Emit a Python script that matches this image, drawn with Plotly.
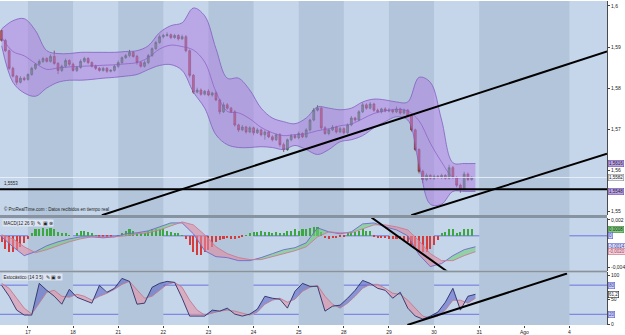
import plotly.graph_objects as go

# ---------------- data ----------------
day_labels = ["17", "18", "21", "22", "23", "24", "25", "28", "29", "30", "31", "Ago", "4"]
day_hours = [0, 24, 48, 72, 96, 120, 144, 168, 192, 216, 240, 264, 288]

# 2-hour candles, hours from first labelled day
candle_t = list(range(-14, 238, 2))
first_open = 1.5940
close = [
    1.5916, 1.5891, 1.5848, 1.5829, 1.5814, 1.5824, 1.5821, 1.5833, 1.5848, 1.5858,
    1.5865, 1.5872, 1.5865, 1.5877, 1.5860, 1.5843, 1.5853, 1.5867, 1.5858, 1.5843,
    1.5850, 1.5865, 1.5872, 1.5862, 1.5853, 1.5848, 1.5843, 1.5848, 1.5841, 1.5843,
    1.5853, 1.5862, 1.5874, 1.5879, 1.5887, 1.5877, 1.5862, 1.5853, 1.5862, 1.5879,
    1.5896, 1.5911, 1.5925, 1.5928, 1.5930, 1.5923, 1.5928, 1.5920, 1.5925, 1.5891,
    1.5831, 1.5790, 1.5795, 1.5785, 1.5792, 1.5783, 1.5788, 1.5771, 1.5742, 1.5759,
    1.5751, 1.5742, 1.5710, 1.5698, 1.5705, 1.5693, 1.5703, 1.5691, 1.5698, 1.5686,
    1.5693, 1.5681, 1.5674, 1.5686, 1.5662, 1.5650, 1.5674, 1.5684, 1.5679, 1.5689,
    1.5681, 1.5698, 1.5722, 1.5746, 1.5751, 1.5703, 1.5689, 1.5698, 1.5705, 1.5693,
    1.5701, 1.5691, 1.5710, 1.5727, 1.5722, 1.5742, 1.5759, 1.5751, 1.5761, 1.5746,
    1.5742, 1.5749, 1.5744, 1.5746, 1.5742, 1.5749, 1.5739, 1.5746, 1.5732, 1.5698,
    1.5650, 1.5597, 1.5577, 1.5587, 1.5580, 1.5585, 1.5582, 1.5587, 1.5580, 1.5606,
    1.5582, 1.5563, 1.5553, 1.5590, 1.5577, 1.5582]
wick_up_pips = [
    3, 4, 3, 4, 3, 5, 4, 3, 4, 3,
    5, 4, 3, 5, 14, 3, 4, 5, 3, 4,
    3, 5, 4, 3, 3, 4, 3, 4, 3, 3,
    4, 5, 3, 4, 6, 3, 4, 3, 5, 4,
    3, 4, 5, 4, 6, 3, 4, 3, 5, 4,
    3, 3, 6, 4, 3, 5, 3, 4, 3, 6,
    4, 3, 4, 3, 5, 3, 4, 3, 5, 3,
    4, 3, 4, 3, 4, 5, 3, 4, 3, 5,
    3, 4, 3, 5, 7, 3, 4, 3, 5, 3,
    4, 3, 4, 5, 3, 4, 6, 4, 5, 3,
    4, 3, 4, 5, 3, 6, 3, 4, 3, 3,
    3, 3, 4, 5, 3, 4, 3, 4, 3, 7,
    4, 3, 4, 6, 4, 3]
wick_dn_pips = [
    3, 3, 4, 3, 6, 3, 4, 3, 3, 4,
    3, 4, 3, 3, 3, 9, 4, 3, 4, 3,
    4, 3, 3, 4, 3, 4, 3, 3, 4, 3,
    3, 4, 3, 3, 4, 3, 5, 3, 3, 4,
    3, 3, 3, 4, 3, 4, 3, 4, 3, 4,
    5, 4, 3, 4, 3, 3, 4, 3, 6, 3,
    4, 3, 4, 5, 3, 4, 3, 6, 3, 4,
    12, 3, 4, 3, 5, 6, 3, 4, 3, 4,
    3, 3, 4, 3, 3, 5, 3, 4, 3, 4,
    3, 4, 3, 3, 4, 3, 3, 4, 3, 4,
    3, 4, 3, 3, 4, 3, 4, 3, 3, 4,
    4, 5, 8, 4, 3, 4, 3, 4, 3, 3,
    4, 5, 8, 3, 4, 3]

# Bollinger bands, every 6 hours
band_t = list(range(-14, 239, 6))
band_upper = [
    1.5944, 1.5964, 1.5969, 1.5940, 1.5891, 1.5884, 1.5884, 1.5887, 1.5887, 1.5887,
    1.5887, 1.5889, 1.5891, 1.5903, 1.5935, 1.5952, 1.5959, 1.5995, 1.5976, 1.5896,
    1.5824, 1.5824, 1.5795, 1.5751, 1.5727, 1.5718, 1.5713, 1.5727, 1.5754, 1.5751,
    1.5747, 1.5751, 1.5766, 1.5773, 1.5771, 1.5766, 1.5766, 1.5826, 1.5814, 1.5722,
    1.5618, 1.5616, 1.5616]
band_lower = [
    1.5903, 1.5814, 1.5788, 1.5780, 1.5800, 1.5814, 1.5819, 1.5819, 1.5821, 1.5824,
    1.5826, 1.5829, 1.5833, 1.5845, 1.5855, 1.5857, 1.5843, 1.5790, 1.5751, 1.5686,
    1.5662, 1.5655, 1.5655, 1.5657, 1.5655, 1.5650, 1.5660, 1.5650, 1.5638, 1.5650,
    1.5669, 1.5674, 1.5684, 1.5703, 1.5718, 1.5730, 1.5722, 1.5614, 1.5517, 1.5517,
    1.5548, 1.5548, 1.5548]

# MACD (12,26,9)
macd_hist = [
    -0.0008, -0.0016, -0.0020, -0.0020, -0.0018, -0.0014, -0.0009, -0.0004,
    0.0004, 0.0008, 0.0009, 0.0010, 0.0009, 0.0010, 0.0008, 0.0005,
    0.0003, 0.0004, 0.0001, 0.0000,
    0.0004, 0.0006, 0.0006, 0.0005, 0.0003, 0.0001,
    -0.0001, -0.0001, -0.0002, -0.0001, 0.0000, 0.0001,
    0.0004, 0.0006, 0.0008, 0.0006, 0.0004, 0.0003, 0.0004, 0.0006, 0.0008, 0.0009, 0.0009, 0.0008,
    0.0006, 0.0005, 0.0004, 0.0003, 0.0001,
    -0.0004, -0.0011, -0.0020, -0.0024, -0.0024, -0.0021, -0.0018, -0.0014,
    -0.0008, -0.0005, -0.0004, -0.0003, -0.0004, -0.0004, -0.0003, -0.0001,
    0.0001, 0.0004, 0.0005, 0.0005, 0.0006, 0.0005, 0.0005, 0.0004, 0.0005, 0.0004,
    0.0004, 0.0006, 0.0006, 0.0008, 0.0006, 0.0008, 0.0009, 0.0010, 0.0011, 0.0011, 0.0005,
    -0.0003, -0.0004, -0.0003, -0.0003, -0.0001, -0.0001,
    0.0003, 0.0005, 0.0005, 0.0006, 0.0008, 0.0006, 0.0006,
    -0.0001, -0.0003, -0.0003, -0.0003, -0.0004, -0.0004, -0.0004, -0.0004, -0.0005,
    -0.0008, -0.0011, -0.0016, -0.0020, -0.0021, -0.0020, -0.0016, -0.0011, -0.0005,
    0.0004, 0.0005, 0.0008, 0.0008, 0.0004, 0.0005, 0.0008, 0.0008, 0.0008]
macd_line = [
    -0.00013, -0.00138, -0.0025, -0.002, -0.00125, -0.00075, -0.00038, -0.00013, -0.00013, -0.00025,
    -0.00013, 0.00025, 0.00038, 0.00063, 0.00113, 0.00163, 0.00163, 0.00025, -0.00188, -0.00263,
    -0.00275, -0.00313, -0.00313, -0.00275, -0.00225, -0.00175, -0.0015, -0.00088, 0.001, 0.0005,
    0.00025, 0.0005, 0.0015, 0.00163, 0.00113, 0.00075, 0.0, -0.00238, -0.00388, -0.0035,
    -0.0025, -0.00175, -0.00138]
signal_line = [
    0.00013, -0.00038, -0.00138, -0.00213, -0.00175, -0.00125, -0.00075, -0.00038, -0.00013, -0.00013,
    -0.00013, 0.0, 0.00025, 0.00038, 0.00075, 0.00125, 0.00175, 0.00138, 0.00013, -0.00138,
    -0.00225, -0.00275, -0.003, -0.003, -0.00263, -0.00225, -0.00188, -0.00138, -0.00013, 0.0005,
    0.00038, 0.00038, 0.00088, 0.00138, 0.00138, 0.00113, 0.00075, -0.00063, -0.00225, -0.00313,
    -0.00313, -0.0025, -0.002]

# Stochastic (14,3,5), every 4 hours
stoch_t = list(range(-14, 239, 4))
stoch_k = [
    79.6, 57.1, 28.6, 18.4, 18.4, 83.7, 69.4, 57.1, 40.8, 71.4,
    55.1, 49.0, 42.9, 79.6, 65.3, 73.5, 93.9, 87.8, 40.8, 42.9,
    75.5, 83.7, 87.8, 85.7, 53.1, 16.3, 16.3, 16.3, 28.6, 26.5,
    32.7, 20.4, 16.3, 20.4, 30.6, 57.1, 53.1, 51.0, 32.7, 67.3,
    83.7, 77.6, 77.6, 26.5, 36.7, 38.8, 53.1, 69.4, 89.8, 83.7,
    73.5, 69.4, 53.1, 65.3, 32.7, 16.3, 10.2, 16.3, 24.5, 44.9,
    73.5, 28.6, 57.1, 61.2]
stoch_d = [
    83.7, 73.5, 53.1, 32.7, 20.4, 42.9, 65.3, 69.4, 57.1, 55.1,
    61.2, 57.1, 49.0, 57.1, 63.3, 71.4, 81.6, 87.8, 69.4, 53.1,
    57.1, 69.4, 81.6, 85.7, 75.5, 49.0, 28.6, 18.4, 22.4, 26.5,
    28.6, 26.5, 22.4, 18.4, 24.5, 40.8, 49.0, 53.1, 44.9, 51.0,
    67.3, 75.5, 79.6, 57.1, 40.8, 32.7, 42.9, 57.1, 73.5, 81.6,
    81.6, 73.5, 63.3, 61.2, 49.0, 32.7, 16.3, 12.2, 16.3, 28.6,
    49.0, 49.0, 42.9, 53.1]

support_level = 1.5553
# trend lines: (hour, value) end points
trend_main_1 = [(39.3, 1.5490), (308.0, 1.5889)]
trend_main_2 = [(203.9, 1.5490), (308.0, 1.5640)]
trend_macd = [(182.7, 0.00231), (223.0, -0.0045)]
trend_stoch = [(201.8, -2.0), (286.7, 104.0)]

# ---------------- derived ----------------
opens = [first_open] + close[:-1]
highs = [max(o, c) + u * 1e-4 for o, c, u in zip(opens, close, wick_up_pips)]
lows = [min(o, c) - d * 1e-4 for o, c, d in zip(opens, close, wick_dn_pips)]
band_mid = [(u + l) / 2 for u, l in zip(band_upper, band_lower)]


def two_tone(xs, a, b):
    ux, uy, dx, dy = [], [], [], []
    for k in range(len(xs) - 1):
        x0, x1 = xs[k], xs[k + 1]
        a0, a1, b0, b1 = a[k], a[k + 1], b[k], b[k + 1]
        d0, d1 = a0 - b0, a1 - b1
        if d0 * d1 < 0:
            f = d0 / (d0 - d1)
            xc = x0 + f * (x1 - x0)
            yc = a0 + f * (a1 - a0)
            pieces = [(x0, a0, b0, xc, yc, yc, d0), (xc, yc, yc, x1, a1, b1, d1)]
        else:
            pieces = [(x0, a0, b0, x1, a1, b1, d0 + d1)]
        for xa, aa, ba, xb, ab, bb, s in pieces:
            px = [xa, xb, xb, xa, xa, None]
            py = [aa, ab, bb, ba, aa, None]
            if s >= 0:
                ux += px; uy += py
            else:
                dx += px; dy += py
    return ux, uy, dx, dy


def comma(v, nd):
    return f"{v:.{nd}f}".replace(".", ",")


LIGHT = "#c5d6ea"
DARK = "#b3c5da"
FONT = "Liberation Sans, Arial, sans-serif"

fig = go.Figure()

# Bollinger band
fig.add_trace(go.Scatter(x=band_t, y=band_upper, mode="lines", line=dict(color="#8160c0", width=0.8, shape="spline"),
                         xaxis="x", yaxis="y", hoverinfo="skip"))
fig.add_trace(go.Scatter(x=band_t, y=band_lower, mode="lines", line=dict(color="#8160c0", width=0.8, shape="spline"),
                         fill="tonexty", fillcolor="rgba(175,130,225,0.55)", xaxis="x", yaxis="y", hoverinfo="skip"))
fig.add_trace(go.Scatter(x=band_t, y=band_mid, mode="lines", line=dict(color="#8a5cc4", width=0.7, shape="spline"),
                         xaxis="x", yaxis="y", hoverinfo="skip"))

# candles
fig.add_trace(go.Candlestick(x=candle_t, open=opens, high=highs, low=lows, close=close,
                             increasing=dict(fillcolor="#3f9f45", line=dict(color="#2d5a30", width=0.7)),
                             decreasing=dict(fillcolor="#cf4a48", line=dict(color="#6e3030", width=0.7)),
                             whiskerwidth=0, xaxis="x", yaxis="y", hoverinfo="skip"))

# MACD
mux, muy, mdx, mdy = two_tone(band_t, macd_line, signal_line)
fig.add_trace(go.Scatter(x=mux, y=muy, mode="lines", fill="toself", fillcolor="rgba(110,205,120,0.6)",
                         line=dict(width=0), xaxis="x", yaxis="y2", hoverinfo="skip"))
fig.add_trace(go.Scatter(x=mdx, y=mdy, mode="lines", fill="toself", fillcolor="rgba(225,140,160,0.6)",
                         line=dict(width=0), xaxis="x", yaxis="y2", hoverinfo="skip"))
fig.add_trace(go.Bar(x=candle_t, y=macd_hist, width=1.1,
                     marker=dict(color=["#3aa83e" if v >= 0 else "#d63a3a" for v in macd_hist], line=dict(width=0)),
                     xaxis="x", yaxis="y2", hoverinfo="skip"))
fig.add_trace(go.Scatter(x=band_t, y=macd_line, mode="lines", line=dict(color="#6f6ac8", width=0.9),
                         xaxis="x", yaxis="y2", hoverinfo="skip"))
fig.add_trace(go.Scatter(x=band_t, y=signal_line, mode="lines", line=dict(color="#c87c95", width=0.9),
                         xaxis="x", yaxis="y2", hoverinfo="skip"))

# Stochastic
sux, suy, sdx, sdy = two_tone(stoch_t, stoch_k, stoch_d)
fig.add_trace(go.Scatter(x=sux, y=suy, mode="lines", fill="toself", fillcolor="rgba(85,95,195,0.55)",
                         line=dict(width=0), xaxis="x", yaxis="y3", hoverinfo="skip"))
fig.add_trace(go.Scatter(x=sdx, y=sdy, mode="lines", fill="toself", fillcolor="rgba(228,150,170,0.65)",
                         line=dict(width=0), xaxis="x", yaxis="y3", hoverinfo="skip"))
fig.add_trace(go.Scatter(x=stoch_t, y=stoch_d, mode="lines", line=dict(color="#c07a90", width=0.9),
                         xaxis="x", yaxis="y3", hoverinfo="skip"))
fig.add_trace(go.Scatter(x=stoch_t, y=stoch_k, mode="lines", line=dict(color="#2b2f6a", width=0.9),
                         xaxis="x", yaxis="y3", hoverinfo="skip"))

# ---------------- shapes ----------------
ranges = {"y": [1.54905, 1.60121], "y2": [-0.004375, 0.00225], "y3": [-2.04, 106.1]}
shapes = []
dark_days = [(0, 24), (48, 72), (96, 120), (144, 168), (192, 216), (240, 288)]
for yr, rg in ranges.items():
    for a, b in dark_days:
        shapes.append(dict(type="rect", xref="x", yref=yr, x0=a, x1=b, y0=rg[0], y1=rg[1],
                           fillcolor=DARK, line=dict(width=0), layer="below"))

# level lines
shapes.append(dict(type="line", xref="paper", yref="y", x0=0, x1=1, y0=close[-1], y1=close[-1],
                   line=dict(color="rgba(235,242,252,0.85)", width=1)))
shapes.append(dict(type="line", xref="paper", yref="y", x0=0, x1=1, y0=support_level, y1=support_level,
                   line=dict(color="black", width=2)))
shapes.append(dict(type="line", xref="paper", yref="y2", x0=0, x1=1, y0=0, y1=0,
                   line=dict(color="#6b74e0", width=1), layer="below"))
for lv in (80, 20):
    shapes.append(dict(type="line", xref="paper", yref="y3", x0=0, x1=1, y0=lv, y1=lv,
                       line=dict(color="#6b74e0", width=1), layer="below"))

for (p0, p1), yr in [(trend_main_1, "y"), (trend_main_2, "y"), (trend_macd, "y2"), (trend_stoch, "y3")]:
    shapes.append(dict(type="line", xref="x", yref=yr, x0=p0[0], y0=p0[1], x1=p1[0], y1=p1[1],
                       line=dict(color="black", width=2)))

# panel separators
D_MAIN = [0.33945, 1.0]
D_MACD = [0.16820, 0.33028]
D_STO = [0.0, 0.16208]
shapes.append(dict(type="rect", xref="paper", yref="paper", x0=0, x1=1, y0=D_MACD[1], y1=D_MAIN[0],
                   fillcolor="#8793a0", line=dict(width=0)))
shapes.append(dict(type="rect", xref="paper", yref="paper", x0=0, x1=1, y0=D_STO[1], y1=D_MACD[0],
                   fillcolor="#8793a0", line=dict(width=0)))

# ---------------- annotations ----------------
ann = []
ann.append(dict(xref="paper", yref="y", x=0.004, y=support_level, yshift=1, xanchor="left", yanchor="bottom",
                text=comma(support_level, 4), showarrow=False, font=dict(size=4.5, color="#222", family=FONT)))
ann.append(dict(xref="paper", yref="y", x=0.004, y=1.5492, xanchor="left", yanchor="bottom",
                text="© ProRealTime.com : Datos recibidos en tiempo real", showarrow=False,
                font=dict(size=4.5, color="#222", family=FONT)))
ann.append(dict(xref="paper", yref="y2", x=0.004, y=0.00225, yshift=-1, xanchor="left", yanchor="top",
                text="MACD(12 26 9)  ✎ ▣ ⊗", showarrow=False, bgcolor="rgba(225,232,244,0.9)",
                borderpad=0.5, font=dict(size=4.5, color="#222", family=FONT)))
ann.append(dict(xref="paper", yref="y3", x=0.004, y=106.1, yshift=-1, xanchor="left", yanchor="top",
                text="Estocástico (14 3 5)  ✎ ▣ ⊗", showarrow=False, bgcolor="rgba(225,232,244,0.9)",
                borderpad=0.5, font=dict(size=4.5, color="#222", family=FONT)))


def box(yref, y, text, bg, border, color="#222"):
    ann.append(dict(xref="paper", yref=yref, x=1, xshift=1, y=y, xanchor="left", yanchor="middle",
                    text=text, showarrow=False, bgcolor=bg, bordercolor=border, borderwidth=0.6,
                    borderpad=0.3, font=dict(size=4.5, color=color, family=FONT)))


box("y", band_upper[-1], comma(band_upper[-1], 4), "#b9a2e6", "#6e4eb0")
box("y", close[-1], comma(close[-1], 4), "#f4f6fb", "#8a8a8a")
box("y", band_lower[-1], comma(band_lower[-1], 4), "#b9a2e6", "#6e4eb0")
box("y2", macd_hist[-1], comma(macd_hist[-1], 4), "#7fcf7f", "#3a8a3a")
box("y2", 0, "0", "#cdd3f6", "#5a62d0", "#3a3fa0")
box("y2", macd_line[-1], comma(macd_line[-1], 4), "#dfe3fa", "#5a62d0", "#3a3fa0")
box("y2", signal_line[-1], comma(signal_line[-1], 4), "#f6d3dd", "#c07080", "#a04060")
box("y3", 80, "80", "#cdd3f6", "#5a62d0", "#3a3fa0")
box("y3", stoch_k[-1], comma(stoch_k[-1], 1), "#ffffff", "#222222")
box("y3", 20, "20", "#cdd3f6", "#5a62d0", "#3a3fa0")

yax_common = dict(side="right", anchor="x", showgrid=False, zeroline=False, showline=True,
                  linecolor="#4a4a4a", linewidth=1, ticks="outside", ticklen=2, tickcolor="#444",
                  tickfont=dict(size=5, color="#222", family=FONT), fixedrange=True)

main_ticks = [1.55, 1.56, 1.57, 1.58, 1.59, 1.60]
fig.update_layout(
    width=625, height=335, margin=dict(l=0, r=17, t=0, b=8),
    paper_bgcolor="white", plot_bgcolor=LIGHT, showlegend=False, bargap=0,
    font=dict(family=FONT),
    xaxis=dict(range=[-14.87, 307.97], tickvals=day_hours, ticktext=day_labels, anchor="y3",
               showgrid=False, zeroline=False, ticks="outside", ticklen=2, tickcolor="#444",
               tickfont=dict(size=5, color="#222", family=FONT), rangeslider=dict(visible=False),
               fixedrange=True, showline=False),
    yaxis=dict(domain=D_MAIN, range=ranges["y"], tickvals=main_ticks,
               ticktext=[comma(v, 2).rstrip("0") if v != 1.6 else "1,6" for v in main_ticks], **yax_common),
    yaxis2=dict(domain=D_MACD, range=ranges["y2"], tickvals=[0.002, -0.004], ticktext=["0,002", "-0,004"],
                **yax_common),
    yaxis3=dict(domain=D_STO, range=ranges["y3"], tickvals=[0, 50, 100], ticktext=["0", "50", "100"],
                **yax_common),
    shapes=shapes, annotations=ann,
)

fig.write_html("out.html")
